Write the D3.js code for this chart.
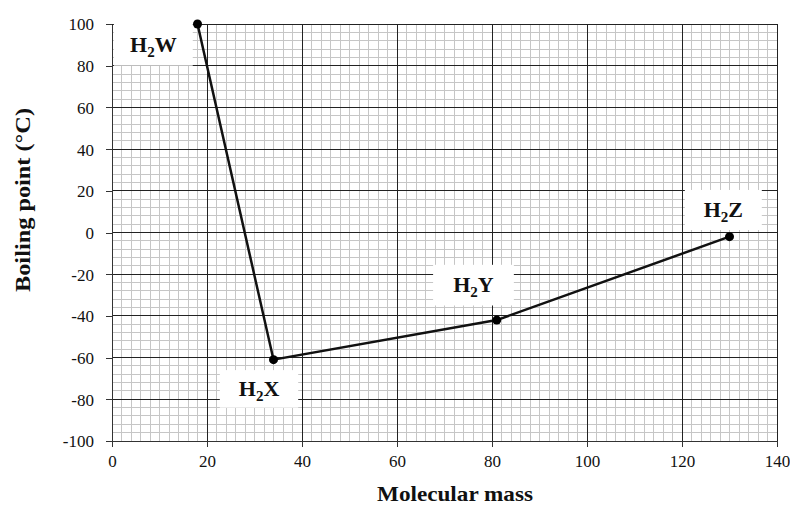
<!DOCTYPE html>
<html><head><meta charset="utf-8">
<script src="https://cdn.jsdelivr.net/npm/d3@7"></script>
<style>body{margin:0;background:#fff}svg{display:block}</style>
</head><body>
<svg id="c" width="790" height="506"></svg>
<script>
const compounds = ["H₂W","H₂X","H₂Y","H₂Z"];
const labelPrefix = ["H","H","H","H"];
const labelSuffix = ["W","X","Y","Z"];
const molecularMass = [18, 34, 81, 130];
const boilingPoint = [100, -61, -42, -2];
const xTicks = [0,20,40,60,80,100,120,140];
const yTicks = [100,80,60,40,20,0,-20,-40,-60,-80,-100];
// label box extents in data units [x0,x1,y0,y1]
const labelBoxes = [[0.4,17,80,100],[22.7,39.2,-84,-66],[67.6,84.6,-35,-15.5],[120.6,136.8,1.2,20.4]];

const svg = d3.select("#c");
const m = {l:112, r:13, t:24, b:65};
const W = 790, H = 506;
const x = d3.scaleLinear().domain([0,140]).range([m.l, W-m.r]);
const y = d3.scaleLinear().domain([-100,100]).range([H-m.b, m.t]);
const serif = "'Liberation Serif','Times New Roman',serif";

const g = svg.append("g");
// minor grid
g.selectAll(".vx").data(d3.range(0,141,2)).join("line")
  .attr("x1",d=>x(d)).attr("x2",d=>x(d)).attr("y1",y(-100)).attr("y2",y(100))
  .attr("stroke","#c6c6c6").attr("stroke-width",1).attr("shape-rendering","crispEdges");
g.selectAll(".hy").data(d3.range(-100,101,4)).join("line")
  .attr("y1",d=>y(d)).attr("y2",d=>y(d)).attr("x1",x(0)).attr("x2",x(140))
  .attr("stroke","#c6c6c6").attr("stroke-width",1).attr("shape-rendering","crispEdges");
// major grid
g.selectAll(".mx").data(xTicks).join("line")
  .attr("x1",d=>x(d)).attr("x2",d=>x(d)).attr("y1",y(-100)).attr("y2",y(100))
  .attr("stroke","#222").attr("stroke-width",1).attr("shape-rendering","crispEdges");
g.selectAll(".my").data(yTicks).join("line")
  .attr("y1",d=>y(d)).attr("y2",d=>y(d)).attr("x1",x(0)).attr("x2",x(140))
  .attr("stroke","#222").attr("stroke-width",1).attr("shape-rendering","crispEdges");

// axes
const fmt = d => String(d).replace("\u2212","-");
const xa = svg.append("g").attr("transform",`translate(0,${y(-100)})`)
  .call(d3.axisBottom(x).tickValues(xTicks).tickFormat(fmt).tickSize(6).tickPadding(8).tickSizeOuter(0));
const ya = svg.append("g").attr("transform",`translate(${x(0)},0)`)
  .call(d3.axisLeft(y).tickValues(yTicks).tickFormat(fmt).tickSize(6).tickPadding(12).tickSizeOuter(0));
[xa,ya].forEach(a=>{
  a.selectAll("text").attr("font-family",serif).attr("font-size",17).attr("fill","#111");
  a.selectAll("line,path").attr("stroke","#333").attr("shape-rendering","crispEdges");
});
ya.selectAll("text").attr("dy","0.35em");

// label boxes
labelBoxes.forEach(b=>{
  svg.append("rect").attr("x",x(b[0])).attr("y",y(b[3]))
    .attr("width",x(b[1])-x(b[0])).attr("height",y(b[2])-y(b[3])).attr("fill","#fff");
});

// line and points
const pts = molecularMass.map((v,i)=>[v,boilingPoint[i]]);
svg.append("path").datum(pts)
  .attr("d",d3.line().x(d=>x(d[0])).y(d=>y(d[1])))
  .attr("fill","none").attr("stroke","#111").attr("stroke-width",2.5);
svg.selectAll(".pt").data(pts).join("circle")
  .attr("cx",d=>x(d[0])).attr("cy",d=>y(d[1])).attr("r",4.5).attr("fill","#000");

// labels
labelBoxes.forEach((b,i)=>{
  const t = svg.append("text").attr("x",(x(b[0])+x(b[1]))/2).attr("y",(y(b[2])+y(b[3]))/2+7)
    .attr("text-anchor","middle").attr("font-family",serif)
    .attr("font-weight","bold").attr("font-size",22).attr("fill","#111");
  t.append("tspan").text(labelPrefix[i]);
  t.append("tspan").text("2").attr("font-size",15).attr("dy",5);
  t.append("tspan").text(labelSuffix[i]).attr("dy",-5);
});

// axis titles
svg.append("text").attr("x",455).attr("y",501).attr("text-anchor","middle")
  .attr("font-family",serif).attr("font-weight","bold").attr("font-size",22)
  .attr("textLength",156).attr("lengthAdjust","spacingAndGlyphs")
  .attr("fill","#111").text("Molecular mass");
svg.append("text").attr("transform",`translate(30,200) rotate(-90)`).attr("text-anchor","middle")
  .attr("font-family",serif).attr("font-weight","bold").attr("font-size",22)
  .attr("textLength",184).attr("lengthAdjust","spacingAndGlyphs")
  .attr("fill","#111").text("Boiling point (°C)");
</script>
</body></html>
